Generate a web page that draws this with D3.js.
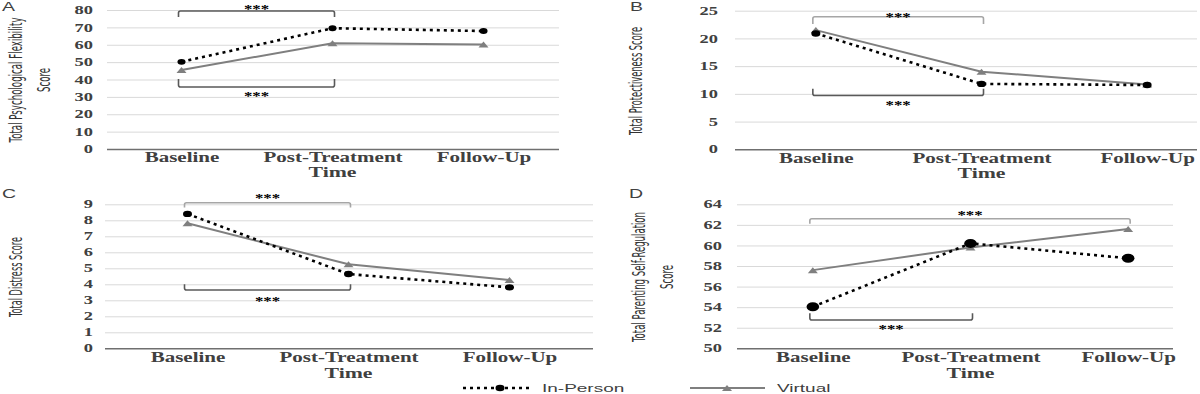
<!DOCTYPE html>
<html>
<head>
<meta charset="utf-8">
<script src="https://cdn.jsdelivr.net/npm/d3@7"></script>
<style>
  html, body { margin: 0; padding: 0; background: #fff; }
  svg { display: block; }
</style>
</head>
<body>
<svg id="chart" width="1200" height="394"></svg>
<script>
// ---------------- DATA ----------------
const timepoints = ["Baseline", "Post-Treatment", "Follow-Up"];
const seriesNames = ["In-Person", "Virtual"];

// A: Total Psychological Flexibility
const flexInPerson = [50.2, 69.5, 67.9];
const flexVirtual  = [45.5, 60.8, 60.2];
const flexTicks    = [0, 10, 20, 30, 40, 50, 60, 70, 80];

// B: Total Protectiveness
const protInPerson = [20.9, 11.8, 11.6];
const protVirtual  = [21.5, 14.0, 11.7];
const protTicks    = [0, 5, 10, 15, 20, 25];

// C: Total Distress
const distInPerson = [8.4, 4.64, 3.81];
const distVirtual  = [7.81, 5.25, 4.27];
const distTicks    = [0, 1, 2, 3, 4, 5, 6, 7, 8, 9];

// D: Total Parenting Self-Regulation
const selfInPerson = [54.04, 60.2, 58.75];
const selfVirtual  = [57.6, 59.8, 61.6];
const selfTicks    = [50, 52, 54, 56, 58, 60, 62, 64];

// significance brackets: [fromIndex, toIndex, lineValue, tipValue, starsValue]
const flexBrackets = [[0, 1, 79.4, 76.0, 82.3], [0, 1, 35.7, 40.3, 32.0]];
const protBrackets = [[0, 1, 23.9, 22.6, 24.35], [0, 1, 9.7, 10.9, 8.4]];
const distBrackets = [[0, 1, 9.1, 8.8, 9.54], [0, 1, 3.64, 4.0, 3.1]];
const selfBrackets = [[0, 2, 62.6, 62.1, 63.2], [0, 1, 52.75, 53.4, 52.1]];
const sigLabel = "***";

// ---------------- STYLE ----------------
const serif = "'Liberation Serif','Times New Roman',serif";
const narrow = "'Liberation Sans Narrow','DejaVu Sans Condensed','Liberation Sans',sans-serif";
const sans = "'Liberation Sans',Arial,sans-serif";
const inPersonColor = "#000000";
const virtualColor = "#7f7f7f";
const gridColor = "#d9d9d9";
const axisColor = "#6f6f6f";
const textColor = "#404040";
const STRETCH = 1.5;

const svg = d3.select("#chart");

function stretch(sel, k) {
  sel.each(function () {
    const w = this.getComputedTextLength();
    d3.select(this).attr("textLength", w * k).attr("lengthAdjust", "spacingAndGlyphs");
  });
}

function triPath(w, h) {
  return `M${-w / 2},${h / 2}L0,${-h / 2}L${w / 2},${h / 2}Z`;
}

function panel(cfg) {
  const g = svg.append("g");
  const x = d3.scalePoint().domain(timepoints).range(cfg.xRange).padding(0.5);
  const y = d3.scaleLinear().domain(cfg.yDomain).range(cfg.yRange);
  const y0 = y(cfg.yDomain[0]);

  // gridlines + tick labels
  const ya = g.append("g")
    .attr("transform", `translate(${cfg.gridStart},0)`)
    .call(d3.axisLeft(y).tickValues(cfg.ticks).tickSize(-(cfg.gridEnd - cfg.gridStart))
      .tickPadding(cfg.gridStart - cfg.tickRight).tickFormat(d3.format("d")));
  ya.attr("font-family", serif);
  ya.select(".domain").remove();
  ya.selectAll(".tick line")
    .attr("stroke", d => d === cfg.yDomain[0] ? axisColor : gridColor)
    .attr("stroke-width", d => d === cfg.yDomain[0] ? 1.6 : 1);
  ya.selectAll(".tick text")
    .attr("font-family", serif).attr("font-weight", "bold").attr("font-size", 11.5)
    .attr("fill", textColor).call(stretch, 1.6);

  // category axis
  const xa = g.append("g")
    .attr("transform", `translate(0,${y0})`)
    .call(d3.axisBottom(x).tickSize(0));
  xa.attr("font-family", serif);
  xa.select(".domain").remove();
  xa.selectAll(".tick text")
    .attr("y", cfg.catBase - y0).attr("dy", null)
    .attr("font-family", serif).attr("font-weight", "bold").attr("font-size", 14)
    .attr("fill", textColor).call(stretch, STRETCH);

  // x title
  g.append("text").text("Time")
    .attr("x", x(timepoints[1])).attr("y", cfg.timeBase)
    .attr("text-anchor", "middle")
    .attr("font-family", serif).attr("font-weight", "bold").attr("font-size", 14.5)
    .attr("fill", textColor).call(stretch, STRETCH);

  // y title (rotated)
  cfg.titles.forEach(t => {
    g.append("text").text(t.text)
      .attr("transform", `translate(${t.x},${cfg.titleY}) rotate(-90) scale(1,1.9)`)
      .attr("text-anchor", "middle").attr("dominant-baseline", "central")
      .attr("font-family", narrow).attr("font-size", 9)
      .attr("fill", "#333")
      .attr("textLength", t.len).attr("lengthAdjust", "spacingAndGlyphs");
  });

  // panel letter
  g.append("text").text(cfg.letter)
    .attr("x", cfg.letterX).attr("y", cfg.letterY)
    .attr("font-family", sans).attr("font-size", 13).attr("fill", "#404040")
    .call(stretch, STRETCH);

  // brackets
  cfg.brackets.forEach((b, i) => {
    const xa1 = x(timepoints[b[0]]) - 3, xa2 = x(timepoints[b[1]]) + 2;
    const yl = y(b[2]), yt = y(b[3]);
    const dir = yt > yl ? 1 : -1;
    const r = 2;
    const p = `M${xa1},${yt}L${xa1},${yl + dir * r}Q${xa1},${yl} ${xa1 + r},${yl}` +
              `L${xa2 - r},${yl}Q${xa2},${yl} ${xa2},${yl + dir * r}L${xa2},${yt}`;
    g.append("path").attr("d", p).attr("fill", "none")
      .attr("stroke", (i === 0 && cfg.topLight) ? "#a6a6a6" : "#595959")
      .attr("stroke-width", 1.6);
    g.append("text").text(sigLabel)
      .attr("x", (xa1 + xa2) / 2).attr("y", y(b[4]) + 6.5)
      .attr("text-anchor", "middle")
      .attr("font-family", serif).attr("font-weight", "bold").attr("font-size", 12)
      .attr("fill", "#000").call(stretch, 1.4);
  });

  const line = d3.line().x((d, i) => x(timepoints[i])).y(d => y(d));

  // Virtual series
  g.append("path").datum(cfg.virtual).attr("d", line)
    .attr("fill", "none").attr("stroke", virtualColor).attr("stroke-width", 2);
  g.selectAll(null).data(cfg.virtual).enter().append("path")
    .attr("d", triPath(10, 6))
    .attr("transform", (d, i) => `translate(${x(timepoints[i])},${y(d)})`)
    .attr("fill", virtualColor);

  // In-Person series
  g.append("path").datum(cfg.inPerson).attr("d", line)
    .attr("fill", "none").attr("stroke", inPersonColor).attr("stroke-width", 2.6)
    .attr("stroke-dasharray", "3,4");
  g.selectAll(null).data(cfg.inPerson).enter().append("ellipse")
    .attr("cx", (d, i) => x(timepoints[i])).attr("cy", d => y(d))
    .attr("rx", cfg.dotR * 1.4).attr("ry", cfg.dotR)
    .attr("fill", inPersonColor);
}

panel({
  xRange: [106, 559], yRange: [149, 10], yDomain: [0, 80], ticks: flexTicks,
  gridStart: 107, gridEnd: 559, tickRight: 93,
  inPerson: flexInPerson, virtual: flexVirtual,
  catBase: 162, timeBase: 177,
  titles: [{ text: "Total Psychological Flexibility", x: 16, len: 125 }, { text: "Score", x: 44, len: 24 }],
  titleY: 80, letter: "A", letterX: 2, letterY: 11,
  brackets: flexBrackets, topLight: false, dotR: 2.9
});

panel({
  xRange: [733, 1230], yRange: [149.3, 10.7], yDomain: [0, 25], ticks: protTicks,
  gridStart: 735, gridEnd: 1197, tickRight: 718,
  inPerson: protInPerson, virtual: protVirtual,
  catBase: 163, timeBase: 178,
  titles: [{ text: "Total Protectiveness Score", x: 636, len: 108 }],
  titleY: 81, letter: "B", letterX: 630, letterY: 10.5,
  brackets: protBrackets, topLight: true, dotR: 3.2
});

panel({
  xRange: [107, 590], yRange: [348.3, 204.3], yDomain: [0, 9], ticks: distTicks,
  gridStart: 105, gridEnd: 593, tickRight: 93,
  inPerson: distInPerson, virtual: distVirtual,
  catBase: 362, timeBase: 378,
  titles: [{ text: "Total Distress Score", x: 16, len: 80 }],
  titleY: 277, letter: "C", letterX: 2, letterY: 198,
  brackets: distBrackets, topLight: true, dotR: 3.2
});

panel({
  xRange: [734, 1207], yRange: [348.3, 204.3], yDomain: [50, 64], ticks: selfTicks,
  gridStart: 737, gridEnd: 1173, tickRight: 722,
  inPerson: selfInPerson, virtual: selfVirtual,
  catBase: 362, timeBase: 378,
  titles: [{ text: "Total Parenting Self-Regulation", x: 639, len: 130 }, { text: "Score", x: 667, len: 24 }],
  titleY: 277, letter: "D", letterX: 629, letterY: 198,
  brackets: selfBrackets, topLight: true, dotR: 4.5
});

// ---------------- LEGEND ----------------
const lg = svg.append("g");
const legendItems = [
  { name: seriesNames[0], x1: 463, x2: 530, mx: 500, tx: 542 },
  { name: seriesNames[1], x1: 690, x2: 765, mx: 727, tx: 777 }
];
const ly = 388;
legendItems.forEach((it, i) => {
  lg.append("line").attr("x1", it.x1).attr("x2", it.x2).attr("y1", ly).attr("y2", ly)
    .attr("stroke", i === 0 ? inPersonColor : virtualColor)
    .attr("stroke-width", i === 0 ? 2.6 : 2)
    .attr("stroke-dasharray", i === 0 ? "3,4" : null);
  if (i === 0) {
    lg.append("ellipse").attr("cx", it.mx).attr("cy", ly).attr("rx", 4.5).attr("ry", 3.3).attr("fill", inPersonColor);
  } else {
    lg.append("path").attr("d", triPath(10, 6)).attr("transform", `translate(${it.mx},${ly})`).attr("fill", virtualColor);
  }
  lg.append("text").text(it.name).attr("x", it.tx).attr("y", ly + 3.5)
    .attr("font-family", sans).attr("font-size", 11.5).attr("fill", "#404040")
    .call(stretch, 1.65);
});
</script>
</body>
</html>
